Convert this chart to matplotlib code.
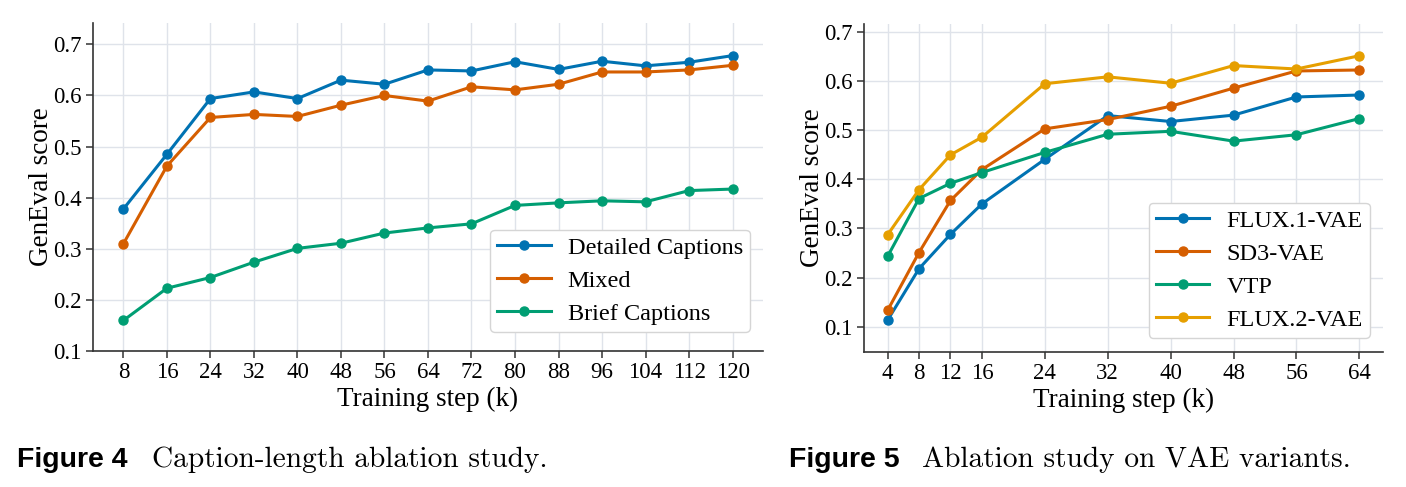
import numpy as np
import matplotlib.pyplot as plt

# Figure 4: caption length ablation
steps_a = [8, 16, 24, 32, 40, 48, 56, 64, 72, 80, 88, 96, 104, 112, 120]
detailed = [0.378, 0.485, 0.594, 0.607, 0.594, 0.630, 0.622, 0.650, 0.648, 0.666,
            0.651, 0.667, 0.658, 0.665, 0.678]
mixed = [0.310, 0.462, 0.557, 0.563, 0.559, 0.581, 0.600, 0.589, 0.617, 0.611,
         0.622, 0.646, 0.646, 0.650, 0.659]
brief = [0.160, 0.223, 0.244, 0.274, 0.301, 0.311, 0.331, 0.341, 0.349, 0.385,
         0.390, 0.394, 0.392, 0.414, 0.417]

# Figure 5: VAE variants
steps_b = [4, 8, 12, 16, 24, 32, 40, 48, 56, 64]
flux1 = [0.113, 0.218, 0.288, 0.350, 0.441, 0.530, 0.518, 0.531, 0.568, 0.572]
sd3 = [0.133, 0.251, 0.357, 0.420, 0.503, 0.522, 0.549, 0.586, 0.621, 0.623]
vtp = [0.243, 0.361, 0.392, 0.414, 0.455, 0.492, 0.498, 0.478, 0.491, 0.524]
flux2 = [0.287, 0.379, 0.450, 0.486, 0.595, 0.609, 0.596, 0.632, 0.625, 0.652]

BLUE, VERM, GREEN, YELLOW = '#0072b2', '#d55e00', '#009e73', '#e69f00'

plt.rcParams['font.family'] = ['Liberation Serif', 'DejaVu Serif']

fig = plt.figure(figsize=(14.06, 4.87), dpi=100)
ax1 = fig.add_axes([0.0661, 0.279, 0.4766, 0.674])
ax2 = fig.add_axes([0.6145, 0.277, 0.3691, 0.674])


def style(ax, ylab_x):
    ax.grid(True, color='#dfe3ea', linewidth=1.0)
    ax.set_axisbelow(True)
    for s in ['top', 'right']:
        ax.spines[s].set_visible(False)
    for s in ['left', 'bottom']:
        ax.spines[s].set_color('#333333')
        ax.spines[s].set_linewidth(1.2)
    ax.tick_params(labelsize=16.5, length=5, width=1.1, color='#333333', pad=3)
    ax.set_xlabel('Training step (k)', fontsize=19.5)
    ax.set_ylabel('GenEval score', fontsize=19.5)
    ax.xaxis.set_label_coords(0.5, -0.11)
    ax.yaxis.set_label_coords(ylab_x, 0.5)


kw = dict(marker='o', markersize=6.5, linewidth=2.2)
leg_kw = dict(loc='lower right', fontsize=17.5, handlelength=2.2,
              labelspacing=0.45, borderpad=0.3, handletextpad=0.7,
              borderaxespad=0, edgecolor='#d5d5d5', framealpha=1)

ax1.plot(steps_a, detailed, color=BLUE, label='Detailed Captions', **kw)
ax1.plot(steps_a, mixed, color=VERM, label='Mixed', **kw)
ax1.plot(steps_a, brief, color=GREEN, label='Brief Captions', **kw)
ax1.set_xticks(steps_a)
ax1.set_yticks(np.arange(0.1, 0.71, 0.1))
ax1.set_ylim(0.1, 0.742)
style(ax1, -0.0575)
ax1.legend(bbox_to_anchor=(0.981, 0.058), **leg_kw)

ax2.plot(steps_b, flux1, color=BLUE, label='FLUX.1-VAE', **kw)
ax2.plot(steps_b, sd3, color=VERM, label='SD3-VAE', **kw)
ax2.plot(steps_b, vtp, color=GREEN, label='VTP', **kw)
ax2.plot(steps_b, flux2, color=YELLOW, label='FLUX.2-VAE', **kw)
ax2.set_xticks(steps_b)
ax2.set_yticks(np.arange(0.1, 0.71, 0.1))
ax2.set_ylim(0.048, 0.717)
style(ax2, -0.075)
ax2.legend(bbox_to_anchor=(0.975, 0.043), **leg_kw)

# captions under the panels
cap_y = 1 - 460 / 487
fig.text(17 / 1406, cap_y, 'Figure 4', fontsize=20.5, fontweight='bold',
         family='Liberation Sans', va='center')
fig.text(152 / 1406, cap_y, 'Caption-length ablation study.', fontsize=21.2,
         family='cmr10', va='center')
fig.text(789 / 1406, cap_y, 'Figure 5', fontsize=20.5, fontweight='bold',
         family='Liberation Sans', va='center')
fig.text(922 / 1406, cap_y, 'Ablation study on VAE variants.', fontsize=21.2,
         family='cmr10', va='center')

fig.savefig('out.png', dpi=100)
